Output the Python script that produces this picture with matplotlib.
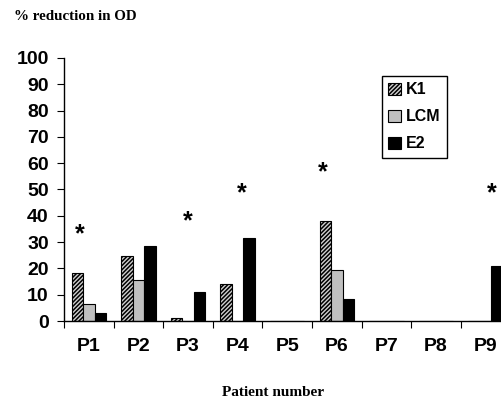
import matplotlib
matplotlib.use("Agg")
import matplotlib.pyplot as plt
import numpy as np
from matplotlib.patches import Patch

patients = ["P1", "P2", "P3", "P4", "P5", "P6", "P7", "P8", "P9"]
k1 = [18.4, 24.8, 1.0, 14.2, 0, 38.1, 0, 0, 0]
lcm = [6.3, 15.7, 0, 0, 0, 19.3, 0, 0, 0]
e2 = [2.9, 28.6, 11.0, 31.4, 0, 8.2, 0, 0, 20.8]
# asterisks: (patient index, x offset within group, y value)
star_idx = [0, 2, 3, 5, 8]
star_dx = [-0.18, 0.0, 0.09, -0.28, 0.13]
star_y = [33, 38, 48.5, 56.6, 48.5]
yticks = list(range(0, 101, 10))

plt.rcParams['hatch.linewidth'] = 1.1
plt.rcParams['hatch.color'] = '#404040'

fig = plt.figure(figsize=(5.02, 4.03), dpi=100)
ax = fig.add_axes([64/502, 1-321/403, 446.4/502, (321-58)/403])

x = np.arange(len(patients))
w = 0.23
k1_hatch = '////////'
ax.bar(x - w, k1, w, facecolor='#cfcfcf', edgecolor='black', linewidth=0.8, hatch=k1_hatch)
ax.bar(x, lcm, w, facecolor='#c0c0c0', edgecolor='black', linewidth=0.8)
ax.bar(x + w, e2, w, facecolor='black', edgecolor='black', linewidth=0.8)

for i, dx, yv in zip(star_idx, star_dx, star_y):
    ax.text(i + dx, yv, '*', ha='center', va='center', fontsize=18,
            fontweight='bold', family='Liberation Sans')

ax.set_xlim(-0.5, len(patients) - 0.5)
ax.set_ylim(0, 100)
ax.spines['top'].set_visible(False)
ax.spines['right'].set_visible(False)
ax.spines['left'].set_linewidth(1.0)
ax.spines['bottom'].set_linewidth(1.0)

ax.set_yticks(yticks)
ax.set_yticklabels([str(t) for t in yticks], fontsize=14, fontweight='bold', family='Liberation Sans')
ax.set_xticks(np.arange(len(patients) + 1) - 0.5)
ax.set_xticklabels([])
ax.set_xticks(x, minor=True)
ax.set_xticklabels(patients, minor=True, fontsize=14, fontweight='bold', family='Liberation Sans')
ax.tick_params(axis='x', which='minor', length=0, pad=12)
ax.tick_params(axis='x', which='major', length=5, direction='out')
ax.tick_params(axis='y', length=5, direction='out', pad=6)

handles = [Patch(facecolor='#cfcfcf', edgecolor='black', hatch=k1_hatch, linewidth=0.8),
           Patch(facecolor='#c0c0c0', edgecolor='black', linewidth=0.8),
           Patch(facecolor='black', edgecolor='black', linewidth=0.8)]
leg = fig.legend(handles, ['K1', 'LCM', 'E2'], loc='upper left',
                 bbox_to_anchor=(382/502, 1-76/403), borderaxespad=0,
                 fancybox=False, framealpha=1,
                 edgecolor='black', handlelength=0.8, handleheight=0.8,
                 handletextpad=0.3, labelspacing=0.75, borderpad=0.4,
                 prop={'family': 'Liberation Sans', 'weight': 'bold', 'size': 11.5})
leg.get_frame().set_linewidth(1.0)

fig.text(14/502, 1-17/403, '% reduction in OD', fontsize=10.8, fontweight='bold',
         family='Liberation Serif', ha='left', va='center')
fig.text(273/502, 1-392/403, 'Patient number', fontsize=11, fontweight='bold',
         family='Liberation Serif', ha='center', va='center')

fig.savefig('out.png', dpi=100)
